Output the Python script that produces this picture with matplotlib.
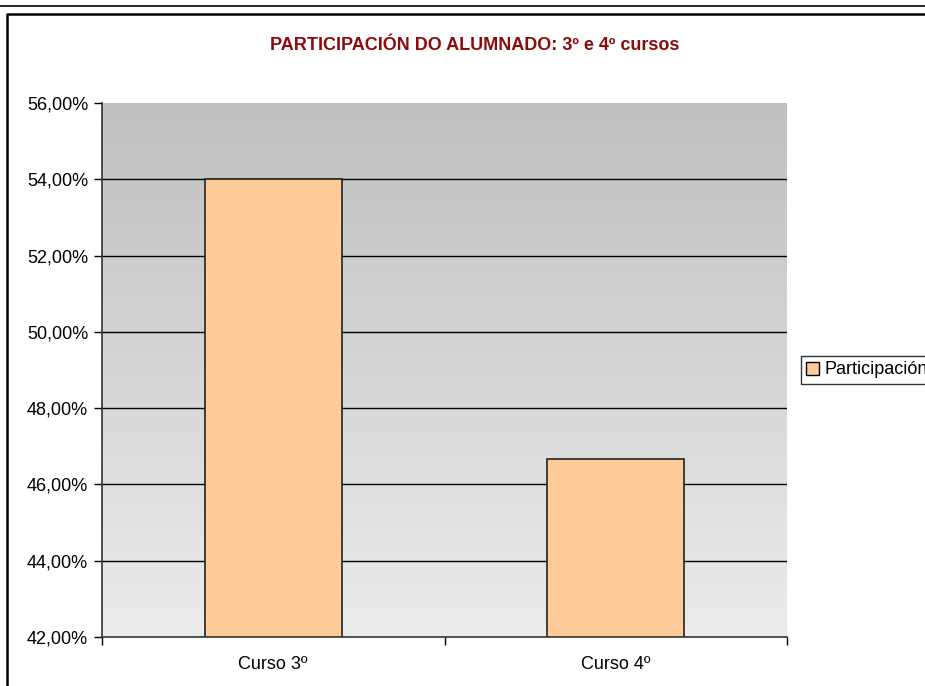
import numpy as np
import matplotlib.pyplot as plt
from matplotlib.lines import Line2D
from matplotlib.patches import Patch
from matplotlib.ticker import FuncFormatter

categories = ["Curso 3º", "Curso 4º"]
participacion = [54.0, 46.67]
series_name = "Participación"

plt.rcParams['font.family'] = ['Liberation Sans', 'DejaVu Sans']

W, H = 925, 686
fig = plt.figure(figsize=(W / 100, H / 100), dpi=100)

# plot area in pixel coords
left, right, top, bottom = 102, 787, 103, 637
ax = fig.add_axes([left / W, 1 - bottom / H, (right - left) / W, (bottom - top) / H])

ymin, ymax = 42, 56
# gray gradient background
grad = np.linspace(0, 1, 256).reshape(-1, 1)
ax.imshow(grad, extent=[-0.5, 1.5, ymin, ymax], aspect='auto', origin='lower',
          cmap=plt.matplotlib.colors.LinearSegmentedColormap.from_list('g', ['#ECECEC', '#C0C0C0']),
          zorder=0)

for y in range(44, 56, 2):
    ax.axhline(y, color='black', lw=1.0, zorder=1)

x = np.arange(len(categories))
ax.bar(x, participacion, bottom=0, width=0.40, color='#FFCC99', edgecolor='#222222',
       linewidth=1.2, zorder=2)

ax.set_xlim(-0.5, 1.5)
ax.set_ylim(ymin, ymax)
ax.set_yticks(range(42, 57, 2))
ax.yaxis.set_major_formatter(FuncFormatter(lambda v, p: f"{v:.2f}%".replace('.', ',')))
ax.set_xticks(x)
ax.set_xticklabels(categories)
ax.set_xticks([-0.5, 0.5, 1.5], minor=True)
ax.tick_params(axis='x', which='major', length=0, labelsize=13, pad=14)
ax.tick_params(axis='x', which='minor', length=6, width=1, direction='out')
ax.tick_params(axis='y', length=6, width=1, direction='out', labelsize=13, pad=4)

for s in ['top', 'right']:
    ax.spines[s].set_visible(False)
ax.spines['left'].set_linewidth(1.2)
ax.spines['bottom'].set_linewidth(1.2)
ax.spines['left'].set_color('#333333')
ax.spines['bottom'].set_color('#333333')

fig.text(475 / W, 1 - 45 / H, "PARTICIPACIÓN DO ALUMNADO: 3º e 4º cursos",
         ha='center', va='center', color='#8B0A0A', fontsize=13, fontweight='bold')

# top line and chart frame
fig.add_artist(Line2D([0, 1], [1 - 6 / H, 1 - 6 / H], transform=fig.transFigure, color='black', lw=1.2))
fig.add_artist(Line2D([7 / W, 7 / W, 1], [0, 1 - 14 / H, 1 - 14 / H], transform=fig.transFigure,
                      color='black', lw=1.8))

handle = Patch(facecolor='#FFCC99', edgecolor='black', linewidth=1)
leg = fig.legend([handle], [series_name], loc='center left', bbox_to_anchor=(801 / W, 1 - 370 / H),
                 fontsize=13, frameon=True, fancybox=False, edgecolor='black',
                 handlelength=0.7, handleheight=0.7, handletextpad=0.3, borderpad=0.3,
                 borderaxespad=0)
leg.get_frame().set_linewidth(1)

fig.savefig('out.png', dpi=100)
